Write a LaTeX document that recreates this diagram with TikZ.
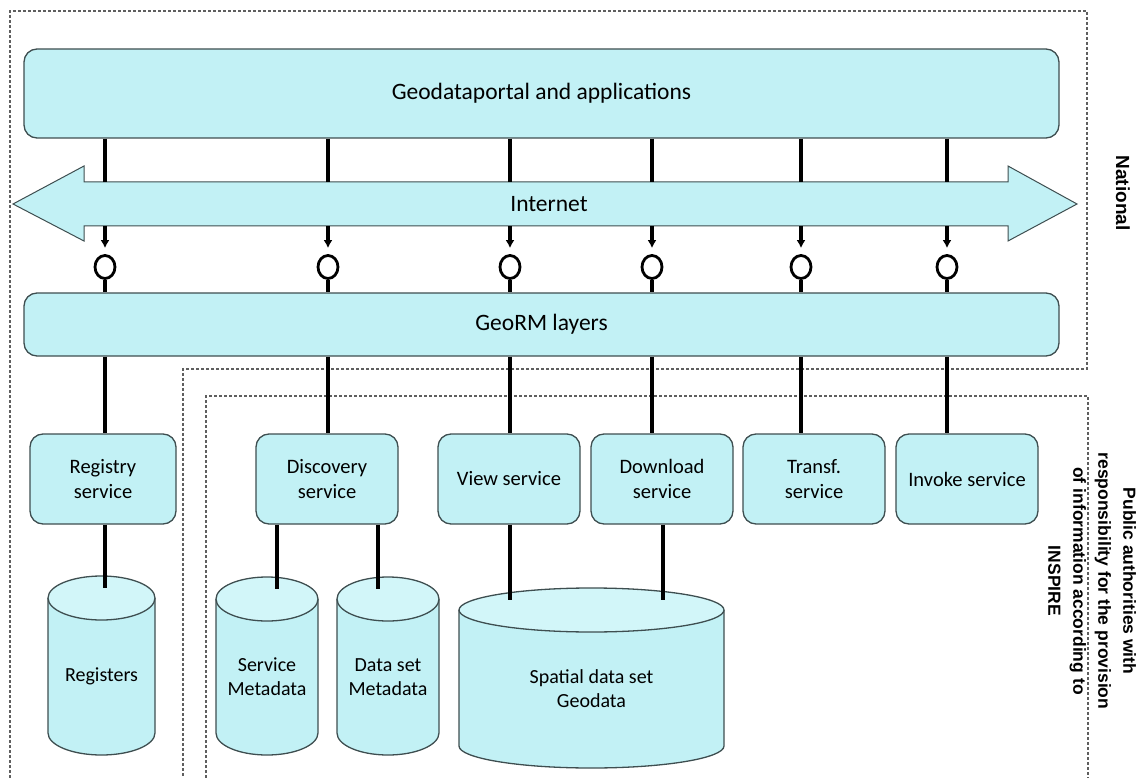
\documentclass[tikz,border=0pt]{standalone}
\usepackage{fontspec}
\setmainfont{Carlito}
\newfontfamily\sidefont{Liberation Sans}
\usetikzlibrary{shapes.geometric,arrows.meta,calc}

\definecolor{cyfill}{RGB}{194,241,245}
\definecolor{cytop}{RGB}{210,246,249}
\definecolor{edge}{RGB}{62,78,80}
\definecolor{dashgray}{RGB}{95,95,95}

\tikzset{
  panel/.style={draw=edge, fill=cyfill, line width=1.3pt, rounded corners=13pt, inner sep=0pt},
  wide/.style={panel, minimum width=1035pt, font=\fontsize{23.5}{28}\selectfont},
  svc/.style={panel, minimum width=142pt, minimum height=90pt, align=center,
              font=\fontsize{20.5}{25}\selectfont},
  link/.style={line width=3.2pt, draw=black},
  plug/.style={ellipse, draw=black, line width=2.8pt, minimum width=20pt,
               minimum height=23pt, inner sep=0pt},
  zone/.style={draw=dashgray, line width=1.1pt, dash pattern=on 3pt off 2pt},
  drumtxt/.style={align=center, font=\fontsize{20}{24}\selectfont},
  drumline/.style={draw=edge, line width=1.3pt},
  side/.style={rotate=-90, align=center}
}

% database drum: name, centre x, top y, bottom y, x radius, label
\newcommand\dbdrum[6]{%
  \fill[cyfill] (#2-#5,#3+22) -- (#2-#5,#4-22)
     arc[start angle=180, end angle=360, x radius=#5pt, y radius=22pt]
     -- (#2+#5,#3+22) -- cycle;
  \draw[drumline] (#2-#5,#3+22) -- (#2-#5,#4-22)
     arc[start angle=180, end angle=360, x radius=#5pt, y radius=22pt]
     -- (#2+#5,#3+22);
  \draw[drumline, fill=cytop] (#2,#3+22) ellipse[x radius=#5pt, y radius=22pt];
  \coordinate (#1-cap) at (#2,#3+12);
  \node[drumtxt] (#1) at (#2,{(#3+22+#4)/2}) {#6};
}

\begin{document}
\begin{tikzpicture}[x=1pt, y=-1pt]
\useasboundingbox (0,0) rectangle (1146,778);

% responsibility zones
\draw[zone] (10,778) -- (10,11) -- (1087,11) -- (1087,369) -- (183,369) -- (183,778);
\draw[zone] (206,778) -- (206,396) -- (1088,396) -- (1088,778);

% Internet double arrow
\draw[fill=cyfill, draw=edge, line width=1pt]
  (13,204) -- (84,166) -- (84,182) -- (1008,182) -- (1008,166) -- (1077,204)
  -- (1008,241) -- (1008,226) -- (84,226) -- (84,241) -- cycle;
\node[font=\fontsize{23.5}{28}\selectfont] (net) at (549,204) {Internet};
\coordinate (shaftT) at (0,182);
\coordinate (shaftB) at (0,226);

% horizontal layers
\node[wide, minimum height=89pt] (portal) at (541.5,93.5) {Geodataportal and applications};
\node[wide, minimum height=63pt] (georm) at (541.5,324.5) {GeoRM layers};

% services
\node[svc, minimum width=146pt] (reg) at (103,479) {Registry\\service};
\node[svc] (disc)   at (327,479) {Discovery\\service};
\node[svc] (view)   at (509,479) {View service};
\node[svc] (down)   at (662,479) {Download\\service};
\node[svc] (transf) at (814,479) {Transf.\\service};
\node[svc] (invoke) at (967,479) {Invoke service};

% data stores
\dbdrum{regs}{101.5}{576}{755}{53.5}{Registers}
\dbdrum{smeta}{267}{577}{755}{51}{Service\\Metadata}
\dbdrum{dmeta}{388}{577}{755}{51}{Data set\\Metadata}
\dbdrum{spatial}{591.5}{588}{768}{132.5}{Spatial data set\\Geodata}

% interface ports between Internet and GeoRM layers
\foreach \i/\xx in {1/105,2/328,3/510,4/652,5/801,6/947} {
  \coordinate (p\i) at (\xx,0);
  \node[plug] (o\i) at (\xx,267) {};
}
\foreach \i in {1,...,6} {
  \draw[link] (portal.south -| p\i) -- (shaftT -| p\i);
  \draw[link, -{Latex[length=8pt,width=9pt]}, shorten >=6pt] (shaftB -| p\i) -- (o\i.north);
  \draw[link] (o\i.south) -- (georm.north -| p\i);
}

% GeoRM layers to services
\foreach \i/\s in {1/reg,2/disc,3/view,4/down,5/transf,6/invoke}
  \draw[link] (georm.south -| p\i) -- (\s.north -| p\i);

% services to data stores
\coordinate (q1) at (277,0);
\coordinate (q2) at (378,0);
\coordinate (q3) at (510,0);
\coordinate (q4) at (663,0);
\draw[link] (reg.south -| p1) -- (regs-cap -| p1);
\draw[link] (disc.south -| q1) -- (smeta-cap -| q1);
\draw[link] (disc.south -| q2) -- (dmeta-cap -| q2);
\draw[link] (view.south -| q3) -- (spatial-cap -| q3);
\draw[link] (down.south -| q4) -- (spatial-cap -| q4);

% zone captions
\node[side, font=\sidefont\bfseries\fontsize{19}{23}\selectfont] (natl) at (1123,193) {National};
\node[side, font=\sidefont\bfseries\fontsize{17.5}{25}\selectfont] (pub) at (1092,581)
  {Public authorities with\\responsibility for the provision\\of information according to\\INSPIRE};
\end{tikzpicture}
\end{document}
